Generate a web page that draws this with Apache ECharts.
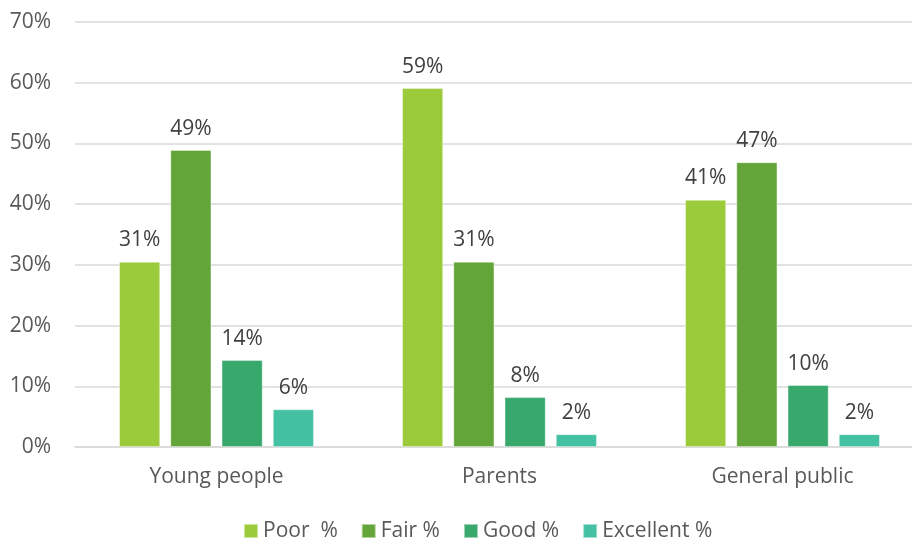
<!DOCTYPE html>
<html>
<head>
<meta charset="utf-8">
<script src="https://cdn.jsdelivr.net/npm/echarts@6/dist/echarts.min.js"></script>
<style>html,body{margin:0;padding:0;background:#fff;}#c{width:912px;height:540px;}</style>
</head>
<body>
<div id="c"></div>
<script>
var categories = ['Young people', 'Parents', 'General public'];
var seriesNames = ['Poor  %', 'Fair %', 'Good %', 'Excellent %'];
var poor = [30.5, 59.1, 40.7];
var fair = [48.9, 30.5, 46.9];
var good = [14.3, 8.2, 10.2];
var excellent = [6.2, 2.1, 2.1];
var yTicks = [0, 10, 20, 30, 40, 50, 60, 70];
var colors = ['#9BCA3B', '#63A538', '#38A86D', '#43C1A2'];
var values = [poor, fair, good, excellent];

var font = 'Open Sans';
var chart = echarts.init(document.getElementById('c'), null, {renderer: 'canvas'});
chart.setOption({
  animation: false,
  textStyle: {fontFamily: font},
  grid: {left: 75, top: 22, width: 849, bottom: 93, containLabel: false, outerBoundsMode: 'none'},
  legend: {
    top: 514, left: 238,
    itemWidth: 14, itemHeight: 14, itemGap: 23,
    icon: 'rect',
    textStyle: {fontSize: 21, lineHeight: 24, color: '#595959', fontFamily: font},
    data: seriesNames
  },
  xAxis: {
    type: 'category', data: categories,
    axisLine: {lineStyle: {color: '#d9d9d9', width: 1.5}},
    axisTick: {show: false},
    axisLabel: {fontSize: 21, color: '#595959', margin: 20}
  },
  yAxis: {
    type: 'value', min: yTicks[0], max: yTicks[yTicks.length - 1], interval: 10,
    axisLine: {show: false}, axisTick: {show: false},
    splitLine: {lineStyle: {color: '#d9d9d9', width: 1.5}},
    axisLabel: {fontSize: 21, color: '#595959', margin: 24, formatter: function (v) { return v + '%'; }}
  },
  series: seriesNames.map(function (n, i) {
    return {
      name: n, type: 'bar', data: values[i],
      barWidth: 41, barGap: '25%',
      itemStyle: {color: colors[i], borderColor: 'rgba(255,255,255,0.5)', borderWidth: 0.8},
      label: {show: true, position: 'top', distance: 11, fontSize: 21, color: '#404040',
        formatter: function (p) { return Math.round(p.value) + '%'; }}
    };
  })
});
</script>
</body>
</html>
